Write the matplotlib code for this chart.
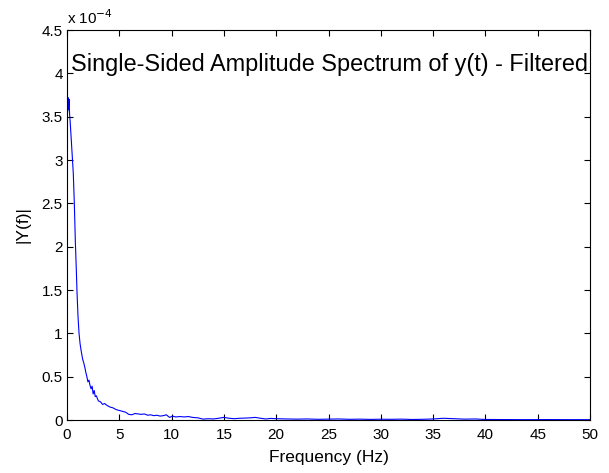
import matplotlib
matplotlib.use("Agg")
import matplotlib.pyplot as plt
from matplotlib.ticker import FuncFormatter

plt.rcParams['font.family'] = ['Liberation Sans', 'DejaVu Sans']

# Frequency (Hz) and amplitude (in units of 1e-4)
freq_hz = [0.0, 0.05, 0.1, 0.15, 0.2, 0.25, 0.3, 0.4, 0.5, 0.6, 0.7, 0.8, 0.9,
           0.95, 1.05, 1.15, 1.25, 1.35, 1.5, 1.6, 1.7, 1.8, 1.9, 2.0, 2.1, 2.2,
           2.3, 2.4, 2.5, 2.6, 2.7, 2.8, 3.0, 3.2, 3.4, 3.6, 3.8, 4.1, 4.4, 4.7,
           5.0, 5.3, 5.6, 5.9, 6.2, 6.5, 6.8, 7.1, 7.4, 7.7, 8.0, 8.3, 8.6, 8.9,
           9.2, 9.5, 9.8, 10.1, 10.4, 10.8, 11.2, 11.6, 12.0, 12.5, 13.0, 13.5,
           14.0, 14.5, 15.0, 15.5, 16.0, 16.5, 17.0, 17.5, 18.0, 18.5, 19.0,
           19.5, 20.0, 21.0, 22.0, 23.0, 24.0, 25.0, 26.0, 27.0, 28.0, 29.0,
           30.0, 31.0, 32.0, 33.0, 34.0, 35.0, 36.0, 37.0, 38.0, 39.0, 40.0,
           42.0, 44.0, 46.0, 48.0, 50.0]
amp_e4 = [4.25, 3.55, 3.72, 3.58, 3.70, 3.52, 3.45, 3.25, 3.05, 2.85, 2.50, 2.05,
          1.70, 1.50, 1.20, 1.00, 0.88, 0.80, 0.70, 0.66, 0.61, 0.55, 0.50, 0.44,
          0.46, 0.40, 0.36, 0.39, 0.30, 0.34, 0.27, 0.28, 0.22, 0.21, 0.18, 0.19,
          0.17, 0.15, 0.14, 0.12, 0.11, 0.10, 0.09, 0.065, 0.06, 0.075, 0.07,
          0.065, 0.07, 0.055, 0.06, 0.05, 0.055, 0.045, 0.05, 0.06, 0.03, 0.045,
          0.035, 0.04, 0.035, 0.04, 0.03, 0.025, 0.01, 0.015, 0.012, 0.02, 0.03,
          0.02, 0.015, 0.02, 0.022, 0.025, 0.03, 0.02, 0.012, 0.018, 0.015,
          0.012, 0.01, 0.012, 0.008, 0.01, 0.012, 0.008, 0.01, 0.007, 0.009,
          0.008, 0.01, 0.006, 0.008, 0.012, 0.02, 0.015, 0.01, 0.012, 0.006,
          0.005, 0.004, 0.005, 0.004, 0.004]

x_ticks = [0, 5, 10, 15, 20, 25, 30, 35, 40, 45, 50]
y_ticks = [0, 0.5, 1, 1.5, 2, 2.5, 3, 3.5, 4, 4.5]

fig = plt.figure(figsize=(6.09, 4.73), dpi=100)
ax = fig.add_axes([67/609, 53/473, 523/609, 390/473])
ax.plot(freq_hz, amp_e4, color=(0, 0, 1), linewidth=0.8)
ax.set_xlim(0, 50)
ax.set_ylim(0, 4.5)
ax.set_xticks(x_ticks)
ax.set_yticks(y_ticks)
fmt = FuncFormatter(lambda v, p: f"{v:g}")
ax.xaxis.set_major_formatter(fmt)
ax.yaxis.set_major_formatter(fmt)
ax.tick_params(direction='in', top=True, right=True, labelsize=11, length=4, width=0.8)
ax.tick_params(axis='x', pad=5.5)
ax.tick_params(axis='y', pad=3)
for s in ax.spines.values():
    s.set_linewidth(0.8)
ax.set_xlabel('Frequency (Hz)', fontsize=12.5, labelpad=6)
ax.set_ylabel('|Y(f)|', fontsize=12.5, labelpad=8)
ax.text(0.35, 4.03, 'Single-Sided Amplitude Spectrum of y(t) - Filtered',
        fontsize=16.9, ha='left', va='baseline')
ax.text(0.0, 1.008, r'x 10$^{-4}$', transform=ax.transAxes, fontsize=11,
        ha='left', va='bottom')

fig.savefig('out.png', dpi=100)
